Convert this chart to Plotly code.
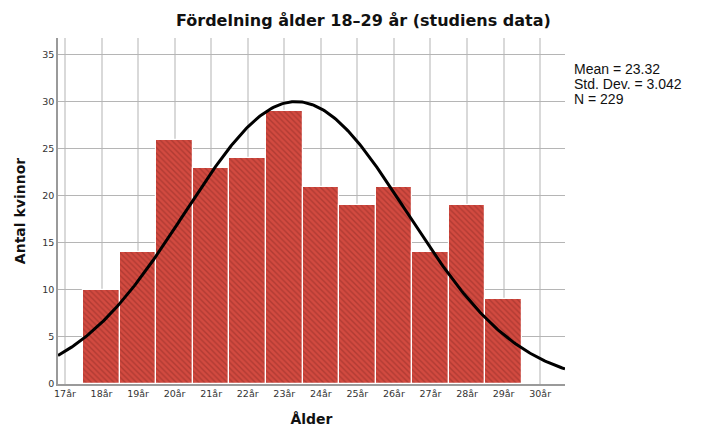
import numpy as np
import plotly.graph_objects as go

ages = [18, 19, 20, 21, 22, 23, 24, 25, 26, 27, 28, 29]
counts = [10, 14, 26, 23, 24, 29, 21, 19, 21, 14, 19, 9]
tick_vals = list(range(17, 31))
tick_text = [f"{a}år" for a in tick_vals]
mean, sd, n = 23.32, 3.042, 229

x_lo, x_hi = 16.81, 30.68

# fitted normal curve (SPSS style), scaled to counts with bin width 1
xs = np.linspace(x_lo, x_hi, 300)
ys = n / (sd * np.sqrt(2 * np.pi)) * np.exp(-0.5 * ((xs - mean) / sd) ** 2)

fig = go.Figure()
fig.add_trace(go.Bar(
    x=ages, y=counts, width=1.0,
    marker=dict(color="#d24a40",
                line=dict(color="white", width=1.2),
                pattern=dict(shape="\\", fgcolor="#8e2b25", bgcolor="#d24a40",
                             size=4, solidity=0.35)),
    showlegend=False, hoverinfo="x+y",
))
fig.add_trace(go.Scatter(
    x=xs, y=ys, mode="lines", line=dict(color="black", width=3),
    showlegend=False, hoverinfo="skip",
))

# page body has an 8px margin, so the figure is drawn slightly smaller
W, H = 701, 420
L, R, T, B = 50, 144, 30, 44
plot_h = H - T - B

stats = [f"Mean = {mean:.2f}", f"Std. Dev. = {sd:.3f}", f"N = {n}"]
for i, s in enumerate(stats):
    row = 61 + 15 * i  # pixel row in the figure
    fig.add_annotation(
        x=1.013, y=(H - B - row) / plot_h, xref="paper", yref="paper",
        xanchor="left", yanchor="middle", text=s, showarrow=False,
        font=dict(family="Liberation Sans, Arial", size=14, color="#111"),
    )

fig.update_layout(
    width=W, height=H,
    margin=dict(l=L, r=R, t=T, b=B, autoexpand=False),
    plot_bgcolor="white", paper_bgcolor="white",
    bargap=0,
    title=dict(text="<b>Fördelning ålder 18–29 år (studiens data)</b>",
               x=0.507, xanchor="center", y=1 - 12 / H, yanchor="middle",
               font=dict(family="DejaVu Sans, Verdana", size=16, color="#111")),
    font=dict(family="DejaVu Sans, Verdana", color="#333"),
)
fig.update_xaxes(
    range=[x_lo, x_hi], tickvals=tick_vals, ticktext=tick_text,
    tickfont=dict(size=9.5, color="#333"), automargin=False,
    showgrid=True, gridcolor="#d9d9d9", gridwidth=2,
    showline=True, linecolor="#9a9a9a", linewidth=1.5,
    ticks="", zeroline=False,
    title=dict(text="<b>Ålder</b>", font=dict(size=14, color="#111"), standoff=16),
)
fig.update_yaxes(
    range=[0, 36.8], tickvals=[0, 5, 10, 15, 20, 25, 30, 35],
    tickfont=dict(size=9.5, color="#333"), automargin=False,
    showgrid=True, gridcolor="#b5b5b5", gridwidth=1,
    showline=True, linecolor="#9a9a9a", linewidth=1.5,
    ticks="", ticklen=0, zeroline=False,
    title=dict(text="<b>Antal kvinnor</b>", font=dict(size=14, color="#111"), standoff=13),
)

fig.write_html("out.html")
